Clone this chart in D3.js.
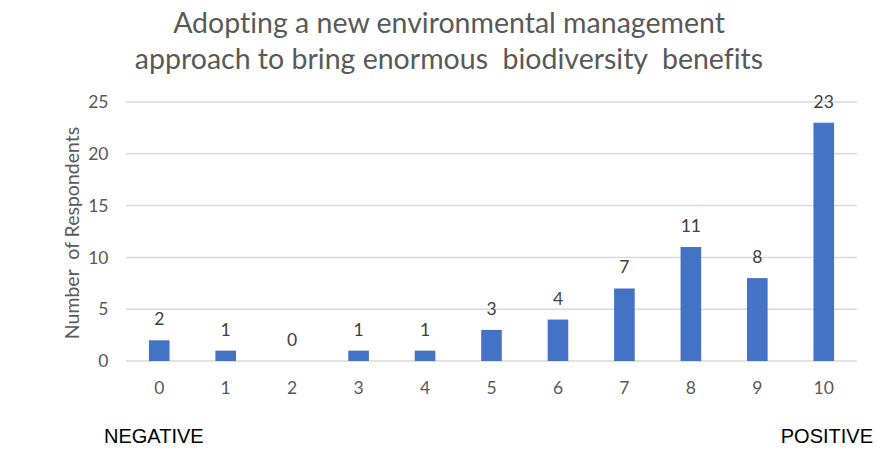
<!DOCTYPE html>
<html>
<head>
<meta charset="utf-8">
<script src="https://cdn.jsdelivr.net/npm/d3@7"></script>
<style>
  html, body { margin: 0; padding: 0; background: #fff; }
  svg { display: block; font-family: Lato, "Open Sans", sans-serif; }
  svg text { white-space: pre; font-variant-ligatures: none; font-feature-settings: "liga" 0, "clig" 0; }
</style>
</head>
<body>
<svg id="chart" width="889" height="455"></svg>
<script>
// Ratings 0 (negative) to 10 (positive) and how many respondents chose each
const categories = ["0", "1", "2", "3", "4", "5", "6", "7", "8", "9", "10"];
const respondents = [2, 1, 0, 1, 1, 3, 4, 7, 11, 8, 23];
const yTicks = [0, 5, 10, 15, 20, 25];
const titleLines = [
  "Adopting a new environmental management",
  "approach to bring enormous  biodiversity  benefits"
];

const svg = d3.select("#chart");
const plot = { left: 126, right: 857, top: 102, bottom: 361 };
const numFont = 17.5;

const x = d3.scaleBand().domain(categories).range([plot.left, plot.right]);
const y = d3.scaleLinear().domain([0, 25]).range([plot.bottom, plot.top]);
const barW = x.bandwidth() * 0.31;

// Title
svg.append("g").selectAll("text").data(titleLines).join("text")
  .attr("x", 449).attr("y", (d, i) => 33 + i * 36)
  .attr("text-anchor", "middle")
  .attr("font-size", 28.5)
  .attr("fill", "#595959")
  .text(d => d);

// Horizontal gridlines
svg.append("g").selectAll("line").data(yTicks).join("line")
  .attr("x1", plot.left).attr("x2", plot.right)
  .attr("y1", d => y(d)).attr("y2", d => y(d))
  .attr("stroke", "#d9d9d9").attr("stroke-width", 1.5);

// Y axis labels
const yAxis = svg.append("g")
  .attr("transform", `translate(${plot.left - 17.5},0)`)
  .call(d3.axisLeft(y).tickValues(yTicks).tickSize(0).tickPadding(0));
yAxis.select(".domain").remove();
yAxis.selectAll("text")
  .attr("font-family", "Lato, 'Open Sans', sans-serif")
  .attr("font-size", numFont).attr("fill", "#595959");

// X axis labels
const xAxis = svg.append("g")
  .attr("transform", `translate(0,${plot.bottom})`)
  .call(d3.axisBottom(x).tickSize(0).tickPadding(0));
xAxis.select(".domain").remove();
xAxis.selectAll("text")
  .attr("dy", null).attr("y", 33)
  .attr("font-family", "Lato, 'Open Sans', sans-serif")
  .attr("font-size", numFont).attr("fill", "#595959");

// Y axis title
svg.append("text")
  .attr("transform", "translate(79,233) rotate(-90)")
  .attr("text-anchor", "middle")
  .attr("font-size", 19.5).attr("fill", "#595959")
  .text("Number  of Respondents");

// Bars
svg.append("g").selectAll("rect").data(respondents).join("rect")
  .attr("x", (d, i) => x(categories[i]) + (x.bandwidth() - barW) / 2)
  .attr("width", barW)
  .attr("y", d => y(d))
  .attr("height", d => y(0) - y(d))
  .attr("fill", "#4472c4");

// Value labels above bars
svg.append("g").selectAll("text").data(respondents).join("text")
  .attr("x", (d, i) => x(categories[i]) + x.bandwidth() / 2)
  .attr("y", d => y(d) - 15)
  .attr("text-anchor", "middle")
  .attr("font-size", numFont).attr("fill", "#404040")
  .text(d => d);

// End-of-scale captions
svg.append("text").attr("x", 104).attr("y", 443)
  .attr("font-family", "'Liberation Sans', Arial, sans-serif")
  .attr("font-size", 20).attr("fill", "#000").text("NEGATIVE");
svg.append("text").attr("x", 873).attr("y", 443).attr("text-anchor", "end")
  .attr("font-family", "'Liberation Sans', Arial, sans-serif")
  .attr("font-size", 20).attr("fill", "#000").text("POSITIVE");
</script>
</body>
</html>
